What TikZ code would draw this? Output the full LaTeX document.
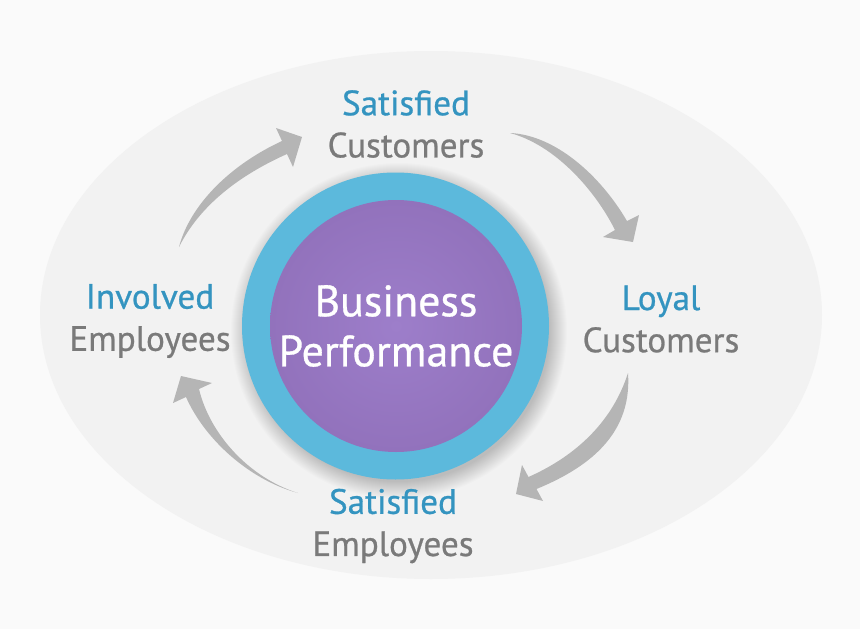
\documentclass[tikz,border=0pt]{standalone}
\usepackage{fontspec}
\setmainfont{PT Sans}
\newfontfamily\stagefont{PT Sans}[FakeBold=0.7]
\definecolor{pagegray}{RGB}{250,250,250}
\definecolor{ovalgray}{RGB}{242,242,242}
\definecolor{ringblue}{RGB}{92,185,220}
\definecolor{corepurple}{RGB}{157,126,202}
\definecolor{coreedge}{RGB}{146,114,188}
\definecolor{titleblue}{RGB}{52,148,192}
\definecolor{wordgray}{RGB}{122,122,122}
\definecolor{flowgray}{RGB}{181,181,181}
\tikzset{
  stage/.style={align=center, font=\stagefont\fontsize{20}{24}\selectfont},
  flow/.style={fill=flowgray},
}
\newcommand{\stagehead}[1]{\textcolor{titleblue}{#1}}
\newcommand{\stagetail}[1]{\textcolor{wordgray}{#1}}
\begin{document}
\begin{tikzpicture}[x=0.02cm, y=-0.02cm]
  % background and oval
  \fill[pagegray] (0,0) rectangle (860,629);
  \useasboundingbox (0,0) rectangle (860,629);
  \fill[ovalgray] (431,315) ellipse [x radius=391, y radius=264];

  % soft shadow round the ring
  \foreach \i in {1,...,18}
    \fill[black, opacity=0.01] (399,331) circle [radius=150+\i];

  % ring and core
  \fill[ringblue] (395.5,326) circle [radius=153.5];
  \shade[inner color=corepurple, outer color=coreedge] (396,326) circle [radius=126];
  \node[align=center, text=white, font=\stagefont\fontsize{25}{28.5}\selectfont] (bp) at (396,326)
    {Business\\Performance};

  % the four stages
  \node[stage] (sc) at (406,124) {\stagehead{Satisfied}\\\stagetail{Customers}};
  \node[stage] (lc) at (661,319) {\stagehead{Loyal}\\\stagetail{Customers}};
  \node[stage] (se) at (393,526) {\stagehead{Satisfied}\\\stagetail{Employees}};
  \node[stage] (ie) at (150,321) {\stagehead{Involved}\\\stagetail{Employees}};

  % curved arrows
  \fill[flow] (179,247) .. controls (190,205) and (230,165) .. (282,141)
    -- (276,128) -- (302,137) -- (293,167) -- (287,154)
    .. controls (240,175) and (200,205) .. (179,247) -- cycle;
  \fill[flow] (510,133) .. controls (555,135) and (600,175) .. (627,221)
    -- (639,215) -- (633,242) -- (603,237) -- (615,230)
    .. controls (595,190) and (555,145) .. (510,133) -- cycle;
  \fill[flow] (628,373) .. controls (632,430) and (595,465) .. (536.5,489)
    -- (543,501) -- (516,494) -- (522,465) -- (528.5,477)
    .. controls (578,455) and (613,420) .. (628,373) -- cycle;
  \fill[flow] (298,493) .. controls (250,480) and (205,440) .. (186,397)
    -- (173,403) -- (181,376) -- (212,383) -- (199,389)
    .. controls (210,435) and (250,478) .. (298,493) -- cycle;
\end{tikzpicture}
\end{document}
